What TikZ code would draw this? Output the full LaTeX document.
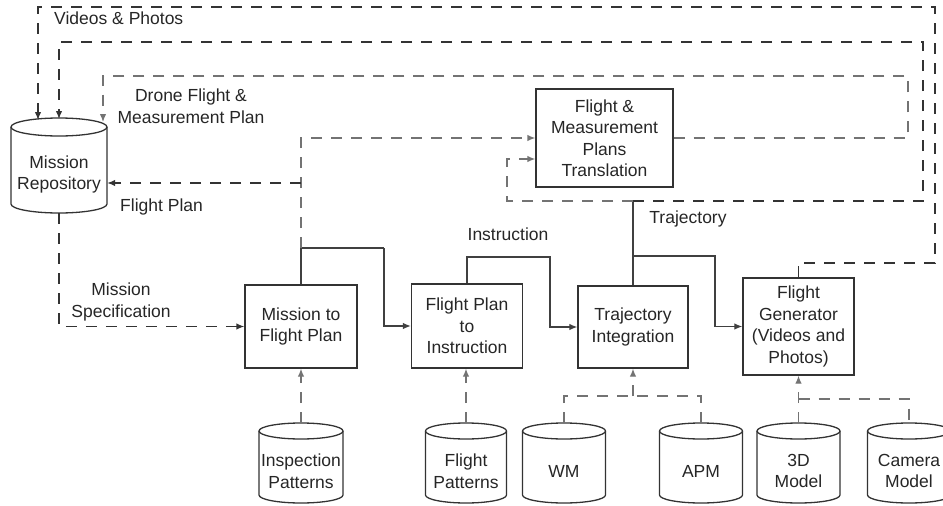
\documentclass[tikz,border=0pt]{standalone}
\usepackage{fontspec}
\setmainfont{Liberation Sans}
\usetikzlibrary{arrows.meta}

\newcommand\diagfont{\fontsize{17.5}{21.5}\selectfont}

% database drum: name, centre x, top y, bottom y, x radius, y radius, label
\newcommand\dbcyl[7]{%
  \node[inner sep=0pt, minimum width=2*#5 pt, minimum height={(#4-#3)*1pt}, anchor=north] (#1) at (#2,#3) {};
  \draw[boxline] (#2-#5,#3+#6) -- (#2-#5,#4-#6)
    arc[start angle=180, end angle=360, x radius=#5pt, y radius=#6pt] -- (#2+#5,#3+#6);
  \draw[boxline] (#2,#3+#6) ellipse[x radius=#5pt, y radius=#6pt];
  \node[lbl] (#1-text) at (#2,{(#3+#4)/2+#6}) {#7};
}

\begin{document}
\begin{tikzpicture}[x=1pt,y=-1pt,
  lbl/.style={align=center, text=black!85, inner sep=0pt, font=\diagfont},
  boxline/.style={draw=black!80, line width=1.3pt},
  procbox/.style={boxline, fill=white, align=center, text=black!85, inner sep=2pt, font=\diagfont},
  sline/.style={draw=black!75, line width=1.2pt},
  dline/.style={draw=black!80, line width=1.3pt, dash pattern=on 11pt off 9pt},
  gline/.style={dline, draw=black!55},
  tip/.style={-{Latex[length=8pt,width=6.5pt]}}]
\useasboundingbox (0,0) rectangle (943,506);

% processing steps
\node[procbox, minimum width=112pt, minimum height=83pt] (m2f) at (301,326.5) {Mission to\\Flight Plan};
\node[procbox, minimum width=111pt, minimum height=84pt] (fpi) at (467,326) {Flight Plan\\to\\Instruction};
\node[procbox, minimum width=110pt, minimum height=82pt] (ti) at (633,327) {Trajectory\\Integration};
\node[procbox, minimum width=111pt, minimum height=97pt] (fg) at (798.5,326.5) {Flight\\Generator\\(Videos and\\Photos)};
\node[procbox, minimum width=137pt, minimum height=98pt] (fmp) at (604.5,138) {Flight \&\\Measurement\\Plans\\Translation};

% data stores
\dbcyl{repo}{59}{118}{213}{48}{9}{Mission\\Repository}
\dbcyl{insp}{301}{423}{503}{42}{8}{Inspection\\Patterns}
\dbcyl{flp}{466}{423}{503}{40.5}{8}{Flight\\Patterns}
\dbcyl{wm}{564}{423}{503}{41.5}{8}{WM}
\dbcyl{apm}{701}{423}{503}{41.5}{8}{APM}
\dbcyl{m3d}{798.5}{423}{503}{41.5}{8}{3D\\Model}
\dbcyl{cam}{909}{423}{503}{41.5}{8}{Camera\\Model}

% bend and junction points
\coordinate (J1) at (301,248);
\coordinate (b1) at (384,248);
\coordinate (b2) at (550,257);
\coordinate (J2) at (633,201);
\coordinate (J3) at (633,256);
\coordinate (b3) at (715,256);
\coordinate (fp1) at (301,183);
\coordinate (t1) at (923,42);
\coordinate (t2) at (507,159);
\coordinate (rin1) at (38,120);
\coordinate (rin2) at (59,119);
\coordinate (rin3) at (103,122);
\coordinate (d1) at (908,76);
\coordinate (v1) at (935,263);
\coordinate (v2) at (38,7);
\coordinate (k1) at (633,396);
\coordinate (k2) at (798.5,399);

% main solid flow
\draw[sline] (m2f.north) -- (J1) -- (b1);
\draw[sline,tip] (b1) |- (fpi.west);
\draw[sline,tip] (fpi.north) |- (b2) |- (ti.west);
\draw[sline] (ti.north) -- (J2);
\draw[sline,tip] (J3) -- (b3) |- (fg.west);

% flight plan feedback
\draw[gline,tip] (J1) |- (fmp.west);
\draw[dline,tip] (fp1) -- (fp1 -| repo.east);
\draw[dline,tip] (repo.south) |- (m2f.west);

% trajectory feedback
\draw[dline,tip] (J2) -| (t1) -| (rin2);
\draw[gline,tip] (J2) -| (t2) -- (t2 -| fmp.west);

% drone flight and measurement plan
\draw[gline,tip] (fmp.east) -| (d1) -| (rin3);

% videos and photos
\draw[dline,tip] (fg.north) |- (v1) |- (v2) -- (rin1);

% inputs from data stores
\draw[gline,tip] (insp.north) -- (m2f.south);
\draw[gline,tip] (flp.north) -- (flp.north |- fpi.south);
\draw[gline] (wm.north) |- (k1) -| (apm.north);
\draw[gline,tip] (k1) -- (ti.south);
\draw[gline,tip] (m3d.north) -- (fg.south);
\draw[gline] (k2) -| (cam.north);

% edge labels
\node[lbl, anchor=west] (lvp) at (54,18) {Videos \& Photos};
\node[lbl] (ldf) at (191,106) {Drone Flight \&\\Measurement Plan};
\node[lbl, anchor=west] (lfp) at (120,207) {Flight Plan};
\node[lbl] (lms) at (121,302) {Mission\\Specification};
\node[lbl] (lin) at (508,234) {Instruction};
\node[lbl] (ltr) at (688,219) {Trajectory};
\end{tikzpicture}
\end{document}
